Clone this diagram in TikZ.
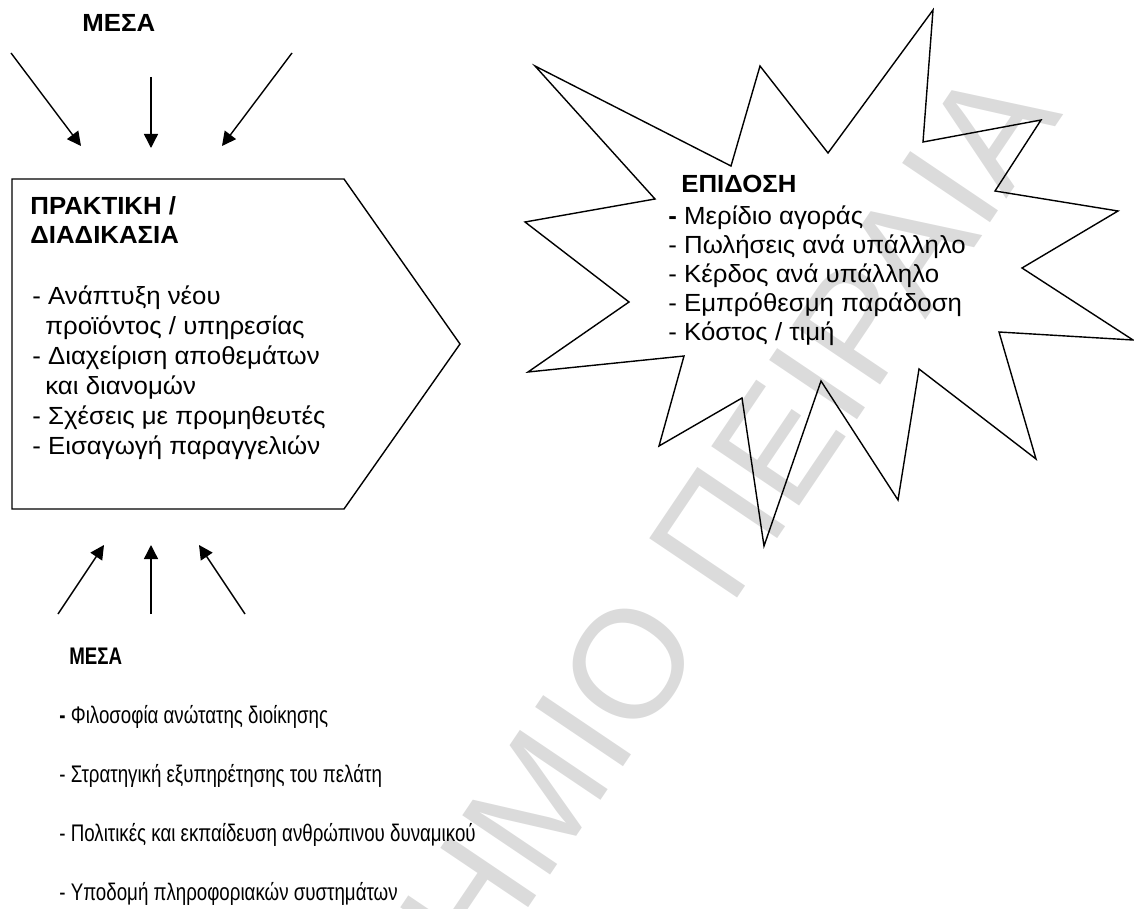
\documentclass[tikz,border=0pt]{standalone}
\usepackage{fontspec}
\setmainfont{Liberation Sans}[FakeStretch=1.04]
\newfontfamily\narrowfont[FakeStretch=0.78]{Liberation Sans}
\newfontfamily\markfont{Liberation Sans}
\usetikzlibrary{arrows.meta}

\begin{document}
\begin{tikzpicture}[x=0.5pt,y=-0.5pt,
    outline/.style={line width=0.7pt},
    push/.style={line width=0.7pt,-{Triangle[length=7pt,width=7pt]}},
    txt/.style={inner sep=0pt,anchor=base west,align=left,font=\fontsize{12.4}{15}\selectfont},
    head/.style={txt,font=\fontsize{12.4}{14}\selectfont\bfseries},
    narrow/.style={inner sep=0pt,anchor=base west,font=\fontsize{12}{15}\selectfont\narrowfont}]
    \useasboundingbox (0,0) rectangle (1134,909);
    % watermark
    \begin{scope}
        \clip (0,0) rectangle (1134,909);
        \node[inner sep=0pt,anchor=base east,rotate=56,text=black!14,font=\fontsize{77}{77}\selectfont\markfont] (mark) at (1064,114) {ΠΑΝΕΠΙΣΤΗΜΙΟ ΠΕΙΡΑΙΑ};
    \end{scope}

    % practice box (multi-line nodes sit on their last baseline)
    \draw[outline] (12,179) -- (344,179) -- (460,344) -- (344,509) -- (12,509) -- cycle;
    \node[head] (practice) at (30,243) {ΠΡΑΚΤΙΚΗ /\\ΔΙΑΔΙΚΑΣΙΑ};
    \node[txt] (tasks) at (32,454) {- Ανάπτυξη νέου\\
        \hspace*{6.5pt}προϊόντος / υπηρεσίας\\
        - Διαχείριση αποθεμάτων\\
        \hspace*{6.5pt}και διανομών\\
        - Σχέσεις με προμηθευτές\\
        - Εισαγωγή παραγγελιών};

    % performance star
    \draw[outline] (535,66) -- (731,166) -- (760,66) -- (828,153) -- (933,10) -- (923,142)
        -- (1041,120) -- (995,191) -- (1118,211) -- (1022,268) -- (1133,340) -- (999,332)
        -- (1036,459) -- (919,369) -- (898,500) -- (821,381) -- (764,546) -- (742,398)
        -- (659,446) -- (684,356) -- (528,372) -- (629,302) -- (525,222) -- (655,199) -- cycle;
    \node[head] (perf) at (681,193) {ΕΠΙΔΟΣΗ};
    \node[txt,font=\fontsize{12.4}{14.5}\selectfont] (measures) at (668,340) {\textbf{-} Μερίδιο αγοράς\\
        - Πωλήσεις ανά υπάλληλο\\
        - Κέρδος ανά υπάλληλο\\
        - Εμπρόθεσμη παράδοση\\
        - Κόστος / τιμή};

    % upper means
    \node[head] (mesa1) at (82,32) {ΜΕΣΑ};
    \coordinate (a1) at (11,53);   \coordinate (b1) at (81,146);
    \coordinate (a2) at (151,77);  \coordinate (b2) at (151,148);
    \coordinate (a3) at (292,53);  \coordinate (b3) at (222,146);
    \draw[push] (a1) -- (b1);
    \draw[push] (a2) -- (b2);
    \draw[push] (a3) -- (b3);

    % lower means
    \coordinate (c1) at (58,614);  \coordinate (d1) at (104,545);
    \coordinate (c2) at (151,614); \coordinate (d2) at (151,545);
    \coordinate (c3) at (245,614); \coordinate (d3) at (199,545);
    \draw[push] (c1) -- (d1);
    \draw[push] (c2) -- (d2);
    \draw[push] (c3) -- (d3);
    \node[narrow,font=\fontsize{12}{15}\selectfont\narrowfont\bfseries] (mesa2) at (69,664) {ΜΕΣΑ};
    \node[narrow] (m1) at (59,723) {\textbf{-} Φιλοσοφία ανώτατης διοίκησης};
    \node[narrow] (m2) at (59,782) {- Στρατηγική εξυπηρέτησης του πελάτη};
    \node[narrow] (m3) at (59,841) {- Πολιτικές και εκπαίδευση ανθρώπινου δυναμικού};
    \node[narrow] (m4) at (59,900) {- Υποδομή πληροφοριακών συστημάτων};
\end{tikzpicture}
\end{document}
